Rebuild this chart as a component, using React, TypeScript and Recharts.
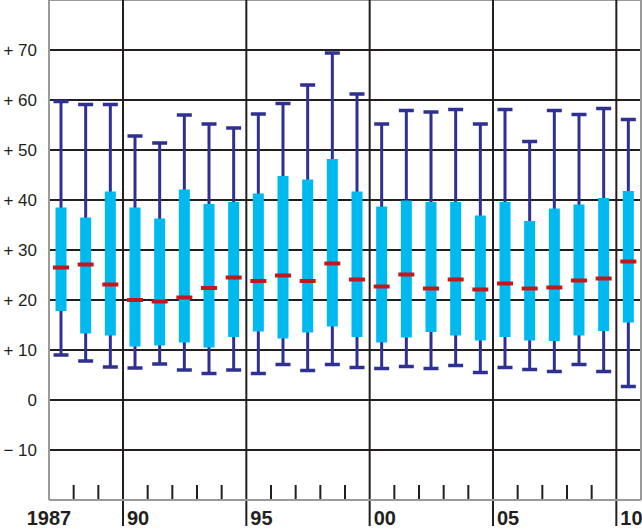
import React from 'react';
import {
  ComposedChart,
  Bar,
  XAxis,
  YAxis,
  CartesianGrid,
  ReferenceLine,
} from 'recharts';

const years = [
  1987, 1988, 1989, 1990, 1991, 1992, 1993, 1994, 1995, 1996, 1997, 1998,
  1999, 2000, 2001, 2002, 2003, 2004, 2005, 2006, 2007, 2008, 2009, 2010,
];
const highs = [
  59.7, 59.1, 59.1, 52.8, 51.4, 57.0, 55.2, 54.4, 57.2, 59.3, 63.0, 69.4,
  61.2, 55.2, 57.9, 57.6, 58.1, 55.2, 58.1, 51.7, 57.9, 57.1, 58.3, 56.1,
];
const q3s = [
  38.5, 36.5, 41.7, 38.5, 36.3, 42.1, 39.2, 39.6, 41.3, 44.8, 44.1, 48.2,
  41.7, 38.7, 39.9, 39.6, 39.6, 36.9, 39.6, 35.8, 38.3, 39.1, 40.4, 41.8,
];
const medians = [
  26.5, 27.1, 23.1, 20.0, 19.7, 20.5, 22.4, 24.5, 23.8, 24.9, 23.8, 27.3,
  24.1, 22.7, 25.1, 22.3, 24.1, 22.1, 23.3, 22.3, 22.5, 23.9, 24.3, 27.7,
];
const q1s = [
  17.8, 13.3, 12.9, 10.7, 10.9, 11.5, 10.5, 12.6, 13.7, 12.3, 13.5, 14.7,
  12.6, 11.5, 12.5, 13.6, 12.9, 11.9, 12.6, 11.9, 11.8, 12.9, 13.8, 15.5,
];
const lows = [
  9.0, 7.8, 6.6, 6.4, 7.2, 6.0, 5.3, 6.0, 5.3, 7.1, 5.9, 7.1,
  6.5, 6.3, 6.7, 6.3, 6.9, 5.5, 6.5, 6.1, 5.7, 7.1, 5.7, 2.7,
];

const yTicks = [-10, 0, 10, 20, 30, 40, 50, 60, 70];
const majorBreaks = [1989.5, 1994.5, 1999.5, 2004.5, 2009.5];
const minorBreaks = [
  1987.5, 1988.5, 1990.5, 1991.5, 1992.5, 1993.5, 1995.5, 1996.5, 1997.5,
  1998.5, 2000.5, 2001.5, 2002.5, 2003.5, 2005.5, 2006.5, 2007.5, 2008.5,
];
const labelTicks = [1986.5, 1989.5, 1994.5, 1999.5, 2004.5, 2009.5];
const labelTexts = ['1987', '90', '95', '00', '05', '10'];

const data = years.map((year, i) => ({
  year,
  high: highs[i],
  q3: q3s[i],
  median: medians[i],
  q1: q1s[i],
  low: lows[i],
}));

const NAVY = '#2e3192';
const CYAN = '#00b9ef';
const RED = '#c4161c';
const INK = '#231f20';
const BORDER = '#9a9a9a';
const FONT = '"Liberation Sans", Arial, Helvetica, sans-serif';

const BoxShape = (props: any) => {
  const { x, y, width, height, payload } = props;
  const top = Math.min(y, y + height);
  const bottom = Math.max(y, y + height);
  const span = payload.high - payload.low;
  const toY = (v: number) => bottom - ((v - payload.low) / span) * (bottom - top);
  const cx = x + width / 2;
  return (
    <g>
      <line x1={cx} x2={cx} y1={toY(payload.high)} y2={toY(payload.low)} stroke={NAVY} strokeWidth={3} />
      <rect x={cx - 5.5} width={11} y={toY(payload.q3)} height={toY(payload.q1) - toY(payload.q3)} fill={CYAN} />
      <rect x={cx - 7.5} width={15} y={toY(payload.high) - 1.75} height={3.5} fill={NAVY} />
      <rect x={cx - 7.5} width={15} y={toY(payload.low) - 1.75} height={3.5} fill={NAVY} />
      <rect x={cx - 8} width={16} y={toY(payload.median) - 2} height={4} fill={RED} />
    </g>
  );
};

// year labels sit just right of the 5-year dividers, the first one is centred on the left edge
const YearTick = (props: any) => {
  const { x, payload } = props;
  const idx = labelTicks.indexOf(payload.value);
  const first = idx === 0;
  return (
    <text
      x={first ? x : x + 4}
      y={525}
      textAnchor={first ? 'middle' : 'start'}
      fontFamily={FONT}
      fontWeight="bold"
      fontSize={20}
      fill={INK}
    >
      {labelTexts[idx]}
    </text>
  );
};

const fmtY = (v: number) => (v > 0 ? `+ ${v}` : v < 0 ? `− ${-v}` : '0');

export default function App() {
  return (
    <div style={{ position: 'absolute', left: 0, top: 0, background: '#fff' }}>
      <ComposedChart
        width={642}
        height={531}
        data={data}
        margin={{ top: 0, right: 1, bottom: 0, left: 0 }}
      >
        <CartesianGrid vertical={false} stroke={INK} strokeWidth={2} />
        <XAxis
          dataKey="year"
          type="number"
          domain={[1986.5, 2010.5]}
          allowDataOverflow
          ticks={labelTicks}
          tick={<YearTick />}
          tickLine={false}
          axisLine={{ stroke: BORDER, strokeWidth: 2 }}
          height={31}
          interval={0}
        />
        <YAxis
          type="number"
          domain={[-20, 80]}
          allowDataOverflow
          ticks={yTicks}
          interval={0}
          width={49}
          tickFormatter={fmtY}
          tickLine={false}
          tickSize={0}
          tickMargin={12}
          axisLine={{ stroke: BORDER, strokeWidth: 2 }}
          tick={{ fontFamily: FONT, fontSize: 17, fill: INK }}
        />
        <ReferenceLine y={80} stroke={BORDER} strokeWidth={2} />
        <ReferenceLine x={2010.5} stroke={BORDER} strokeWidth={2} />
        {majorBreaks.map((b) => (
          <ReferenceLine
            key={`maj-${b}`}
            segment={[{ x: b, y: 80 }, { x: b, y: -25.2 }]}
            ifOverflow="visible"
            stroke={INK}
            strokeWidth={2}
          />
        ))}
        {minorBreaks.map((b) => (
          <ReferenceLine
            key={`min-${b}`}
            segment={[{ x: b, y: -20 }, { x: b, y: -17 }]}
            stroke={INK}
            strokeWidth={2}
          />
        ))}
        <Bar
          dataKey={(d: any) => [d.low, d.high]}
          barSize={16}
          shape={<BoxShape />}
          isAnimationActive={false}
        />
      </ComposedChart>
    </div>
  );
}
